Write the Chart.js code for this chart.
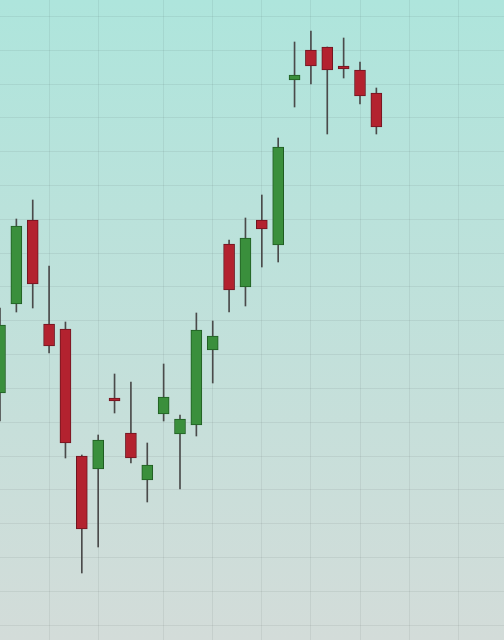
<!DOCTYPE html>
<html><head><meta charset="utf-8">
<script src="https://cdn.jsdelivr.net/npm/chart.js@4/dist/chart.umd.min.js"></script>
<style>
html,body{margin:0;padding:0;width:504px;height:640px;overflow:hidden;background:linear-gradient(#aee5dc,#d3dcd9);}
#c{display:block;}
</style></head><body>
<div style="width:504px;height:640px"><canvas id="c"></canvas></div>
<script>
const positions=[0,1,2,3,4,5,6,7,8,9,10,11,12,13,14,15,16,17,18,19,20,21,22,23];
const opens =[247,336,420,316,311,184,171,242,207,160,226,206,215,290,396,353,420,395,560,590,593,574,570,547];
const closes=[315,414,356,294,197,111,200,239,182,175,243,221,310,304,350,402,411,493,565,574,570,571,544,513];
const highs =[332,421,440,374,318,185,205,266,258,197,276,225,327,319,400,422,445,502,598,609,593,602,578,552];
const lows  =[219,328,332,287,182,67,93,227,177,138,219,151,204,257,328,334,373,378,533,556,506,562,536,506];
const gridX=[3,6,10,13,16,19,22,25,28];
const gridY=[];for(let v=15;v<=640;v+=33.8)gridY.push(v);
const up=positions.map((p,i)=>closes[i]>=opens[i]);
new Chart(document.getElementById('c'),{
type:'bar',
data:{datasets:[
{data:positions.map((p,i)=>({x:p,y:[Math.min(opens[i],closes[i]),Math.max(opens[i],closes[i])]})),
 backgroundColor:up.map(u=>u?'#3a8f3c':'#b3222f'),borderColor:up.map(u=>u?'#1f5c22':'#6e1520'),
 borderWidth:1,borderSkipped:false,barThickness:11,grouped:false,order:0},
{data:positions.map((p,i)=>({x:p,y:[lows[i],highs[i]]})),backgroundColor:'#4a4a4a',barThickness:1,grouped:false,order:1}
]},
options:{responsive:true,maintainAspectRatio:false,animation:false,layout:{padding:0},
plugins:{legend:{display:false},tooltip:{enabled:false}},
scales:{
x:{type:'linear',offset:false,min:0,max:30.8,afterBuildTicks:a=>{a.ticks=gridX.map(v=>({value:v}));},
 ticks:{display:false},border:{display:false},grid:{offset:false,color:'rgba(0,0,0,0.06)',drawTicks:false}},
y:{min:0,max:640,afterBuildTicks:a=>{a.ticks=gridY.map(v=>({value:v}));},
 ticks:{display:false},border:{display:false},grid:{color:'rgba(0,0,0,0.06)',drawTicks:false}}
}}});
</script></body></html>
